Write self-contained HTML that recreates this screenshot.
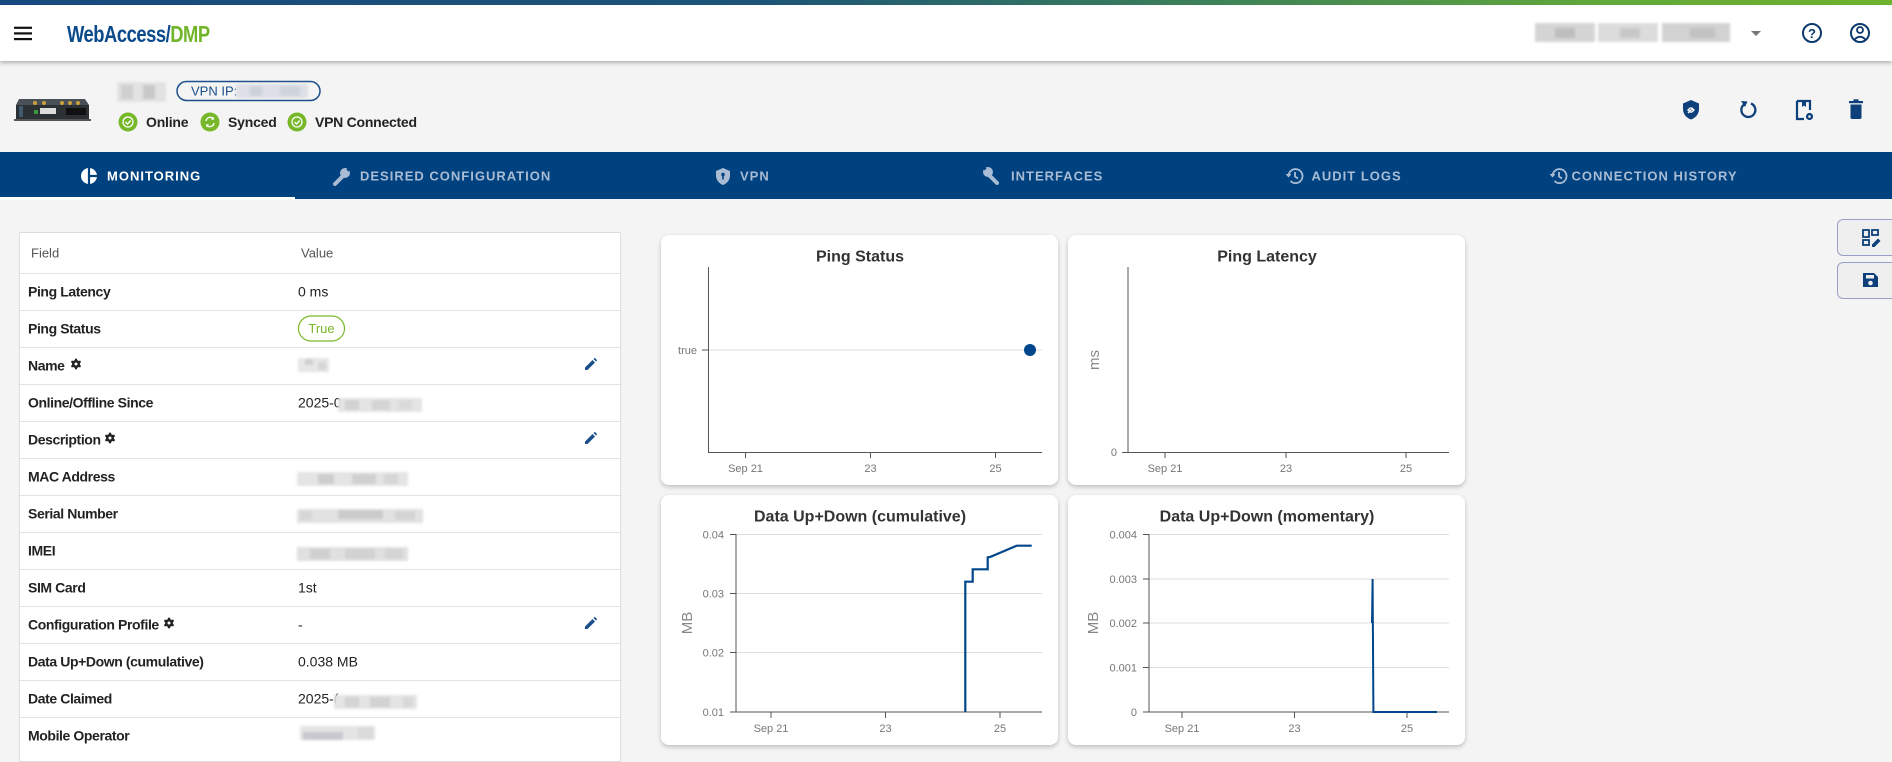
<!DOCTYPE html>
<html><head><meta charset="utf-8">
<style>
*{margin:0;padding:0;box-sizing:border-box}
body{width:1892px;height:753px;overflow:hidden;background:#f4f4f4;font-family:"Liberation Sans",Arial,sans-serif;position:relative;color:#222}
.a{position:absolute}
svg text{font-family:"Liberation Sans",Arial,sans-serif}
.card{position:absolute;background:#fff;border-radius:8px;box-shadow:0 2px 5px rgba(0,0,0,.22)}
.btn{position:absolute;left:1837px;width:62px;height:37px;border:1px solid #9a9fc6;border-radius:6px;background:#efefef}
</style></head><body>
<!-- header -->
<div class="a" style="left:0;top:0;width:1892px;height:61px;background:#fff;box-shadow:0 2px 4px rgba(0,0,0,.28)"></div>
<div class="a" style="left:0;top:0;width:1892px;height:5px;background:linear-gradient(90deg,#174a7e 0%,#1d5477 40%,#3f8357 65%,#62a83a 85%,#6db32d 100%)"></div>
<!-- tab bar -->
<div class="a" style="left:0;top:152px;width:1892px;height:47px;background:#00427f"></div>
<div class="a" style="left:0;top:197px;width:295px;height:3px;background:#fff"></div>
<!-- table -->
<div class="a" style="left:19px;top:232px;width:602px;height:530px;background:#fff;border:1px solid #dcdcdc"></div>
<!-- cards -->
<div class="card" style="left:661px;top:235px;width:397px;height:250px"></div>
<div class="card" style="left:1068px;top:235px;width:397px;height:250px"></div>
<div class="card" style="left:661px;top:495px;width:397px;height:250px"></div>
<div class="card" style="left:1068px;top:495px;width:397px;height:250px"></div>
<div class="btn" style="top:219px"></div>
<div class="btn" style="top:262px"></div>

<svg class="a" style="left:0;top:0" width="1892" height="753" viewBox="0 0 1892 753" xmlns="http://www.w3.org/2000/svg">
<defs>
<filter id="bl" x="-10%" y="-30%" width="120%" height="160%"><feGaussianBlur stdDeviation="1.3"/></filter>
</defs>
<!-- header content -->
<g fill="#111">
<rect x="14" y="26.7" width="18" height="2.2"/><rect x="14" y="32.3" width="18" height="2.2"/><rect x="14" y="38" width="18" height="2.2"/>
</g>
<g transform="translate(67,42) scale(0.8,1)">
<text x="0" y="0" font-size="23" font-weight="bold" letter-spacing="-0.6"><tspan fill="#0b4a8b">WebAccess/</tspan><tspan fill="#72b42a">DMP</tspan></text>
</g>
<g filter="url(#bl)">
<rect x="1535" y="23" width="60" height="19" fill="#d4d4d4"/>
<rect x="1598" y="23" width="60" height="19" fill="#dcdcdc"/>
<rect x="1662" y="23" width="68" height="19" fill="#d2d2d2"/>
<rect x="1555" y="28" width="20" height="10" fill="#bdbdbd"/>
<rect x="1620" y="28" width="20" height="10" fill="#c8c8c8"/>
<rect x="1690" y="28" width="25" height="10" fill="#c2c2c2"/>
</g>
<path d="M1751 31 L1761 31 L1756 36 Z" fill="#777"/>
<circle cx="1812" cy="33" r="9" fill="none" stroke="#0b3a6e" stroke-width="2"/>
<text x="1812" y="37.8" font-size="13" font-weight="bold" fill="#0b3a6e" text-anchor="middle">?</text>
<circle cx="1860" cy="33" r="9" fill="none" stroke="#0b3a6e" stroke-width="2"/>
<circle cx="1860" cy="30" r="3" fill="none" stroke="#0b3a6e" stroke-width="1.8"/>
<path d="M1854.5 39.5 Q1860 34 1865.5 39.5" fill="none" stroke="#0b3a6e" stroke-width="1.8"/>

<!-- device -->
<polygon points="19,99 85,99 89,105 16,105" fill="#4a5058"/>
<rect x="16" y="105" width="73" height="14" fill="#2b3035"/>
<rect x="19" y="106" width="4" height="11" fill="#3f5a6e"/>
<rect x="40" y="108" width="16" height="6" fill="#dcdcdc"/>
<rect x="66" y="108" width="20" height="7" fill="#111"/>
<rect x="34" y="110" width="4" height="4" fill="#3a9a3a"/>
<g fill="#c9a23a"><circle cx="35" cy="103" r="2"/><circle cx="44" cy="103" r="2"/><circle cx="62" cy="103" r="2"/><circle cx="70" cy="103" r="2"/><circle cx="78" cy="103" r="2"/></g>
<rect x="14" y="119" width="77" height="2" fill="#555"/>
<!-- name blur -->
<g filter="url(#bl)">
<rect x="117" y="82" width="49" height="20" fill="#e2e2e2"/>
<rect x="121" y="85" width="12" height="14" fill="#cfcfcf"/>
<rect x="143" y="85" width="12" height="14" fill="#c8c8c8"/>
</g>
<!-- VPN pill -->
<rect x="177" y="81.5" width="143" height="19" rx="9.5" fill="none" stroke="#1b4f8b" stroke-width="1.5"/>
<text x="191" y="95.5" font-size="13" fill="#1b4f8b">VPN IP:</text>
<g filter="url(#bl)"><rect x="236" y="84" width="72" height="14" fill="#dde0e6"/><rect x="250" y="86" width="12" height="10" fill="#cdd2da"/><rect x="280" y="86" width="20" height="10" fill="#cfd3db"/></g>
<!-- status -->
<circle cx="128" cy="122" r="9.5" fill="#76b82a"/>
<circle cx="128" cy="122" r="5" fill="none" stroke="#fff" stroke-width="1.3"/>
<path d="M125.5 122 l2 2 l3.2 -3.5" fill="none" stroke="#fff" stroke-width="1.3"/>
<text x="146" y="127" font-size="14" font-weight="bold" letter-spacing="-0.2" fill="#222">Online</text>
<circle cx="210" cy="122" r="9.5" fill="#76b82a"/>
<path d="M206 121 a4.2 4.2 0 0 1 7.5 -2 M214 123 a4.2 4.2 0 0 1 -7.5 2" fill="none" stroke="#fff" stroke-width="1.4"/>
<path d="M213.8 116.8 l0 3 l-3 0 Z M206.2 127.2 l0 -3 l3 0 Z" fill="#fff"/>
<text x="228" y="127" font-size="14" font-weight="bold" letter-spacing="-0.2" fill="#222">Synced</text>
<circle cx="297" cy="122" r="9.5" fill="#76b82a"/>
<circle cx="297" cy="122" r="5" fill="none" stroke="#fff" stroke-width="1.3"/>
<path d="M294.5 122 l2 2 l3.2 -3.5" fill="none" stroke="#fff" stroke-width="1.3"/>
<text x="315" y="127" font-size="14" font-weight="bold" letter-spacing="-0.25" fill="#222">VPN Connected</text>

<!-- action icons -->
<path d="M1691 100 l8 3.5 v5.5 c0 5 -3.5 9 -8 10.5 c-4.5 -1.5 -8 -5.5 -8 -10.5 v-5.5 z" fill="#0d3f7a"/>
<path d="M1688 113 l5 -5 M1687.5 110.5 l2 -2 a2 2 0 0 1 3 3 M1694.5 109.5 l-2 2 a2 2 0 0 1 -3 -3" fill="none" stroke="#fff" stroke-width="1.3"/>
<path d="M1744 104.5 A7 7 0 1 0 1751 103.5" fill="none" stroke="#0d3f7a" stroke-width="2.3"/>
<path d="M1741 101 L1747.5 101.5 L1745 107 Z" fill="#0d3f7a"/>
<path d="M1797 101 h13 v9 M1797 101 v18 h7" fill="none" stroke="#0d3f7a" stroke-width="2.2"/>
<path d="M1802 101 v6 l2 -1.5 l2 1.5 v-6 z" fill="#0d3f7a"/>
<circle cx="1809.5" cy="116.5" r="3.6" fill="#0d3f7a"/>
<circle cx="1809.5" cy="116.5" r="1.3" fill="#f4f4f4"/>
<rect x="1849" y="101" width="14" height="2.2" fill="#0d3f7a"/>
<rect x="1853.5" y="99.3" width="5" height="2" fill="#0d3f7a"/>
<path d="M1850.5 104.5 h11 v13 a1.5 1.5 0 0 1 -1.5 1.5 h-8 a1.5 1.5 0 0 1 -1.5 -1.5 z" fill="#0d3f7a"/>

<!-- tabs -->
<circle cx="89" cy="176" r="8" fill="#fff"/>
<rect x="87.9" y="167" width="2.2" height="18" fill="#00427f"/>
<rect x="89" y="174.9" width="9" height="2.2" fill="#00427f"/>
<text x="107" y="180.7" font-size="13" font-weight="bold" letter-spacing="1" fill="#fff">MONITORING</text>
<g fill="#a9bcd4" stroke="#a9bcd4">
<path d="M335 184 l8 -8" stroke-width="4" stroke-linecap="round"/>
<circle cx="345" cy="173" r="5" stroke="none"/>
<path d="M347.5 170.5 l3 -3" stroke="#00427f" stroke-width="3"/>
</g>
<text x="360" y="180.7" font-size="13" font-weight="bold" letter-spacing="1" fill="#a9bcd4">DESIRED CONFIGURATION</text>
<path d="M723 168 l7 3 v4.5 c0 4.5 -3 8 -7 9.5 c-4 -1.5 -7 -5 -7 -9.5 v-4.5 z" fill="#a9bcd4"/>
<circle cx="723" cy="174.5" r="1.8" fill="#00427f"/><rect x="722.2" y="175" width="1.6" height="4.5" fill="#00427f"/>
<text x="740" y="180.7" font-size="13" font-weight="bold" letter-spacing="1" fill="#a9bcd4">VPN</text>
<g fill="#a9bcd4" stroke="#a9bcd4">
<path d="M997 183 l-7 -7" stroke-width="4" stroke-linecap="round"/>
<circle cx="988" cy="172" r="5" stroke="none"/>
<path d="M985.5 169.5 l-3 -3" stroke="#00427f" stroke-width="3"/>
</g>
<text x="1011" y="180.7" font-size="13" font-weight="bold" letter-spacing="1" fill="#a9bcd4">INTERFACES</text>
<g fill="none" stroke="#a9bcd4" stroke-width="1.8">
<path d="M1288.5 176 A7 7 0 1 1 1290.5 181"/>
<path d="M1295 172 v4.5 l3 2"/>
<path d="M1552.5 176 A7 7 0 1 1 1554.5 181"/>
<path d="M1559 172 v4.5 l3 2"/>
</g>
<path d="M1285.5 174 l3 3.5 l3 -3.5 z M1549.5 174 l3 3.5 l3 -3.5 z" fill="#a9bcd4"/>
<text x="1311.5" y="180.7" font-size="13" font-weight="bold" letter-spacing="1" fill="#a9bcd4">AUDIT LOGS</text>
<text x="1571.5" y="180.7" font-size="13" font-weight="bold" letter-spacing="1" fill="#a9bcd4">CONNECTION HISTORY</text>

<!-- table -->
<g stroke="#e2e2e2" stroke-width="1">
<line x1="20" y1="273.5" x2="620" y2="273.5"/><line x1="20" y1="310.5" x2="620" y2="310.5"/><line x1="20" y1="347.5" x2="620" y2="347.5"/><line x1="20" y1="384.5" x2="620" y2="384.5"/><line x1="20" y1="421.5" x2="620" y2="421.5"/><line x1="20" y1="458.5" x2="620" y2="458.5"/><line x1="20" y1="495.5" x2="620" y2="495.5"/><line x1="20" y1="532.5" x2="620" y2="532.5"/><line x1="20" y1="569.5" x2="620" y2="569.5"/><line x1="20" y1="606.5" x2="620" y2="606.5"/><line x1="20" y1="643.5" x2="620" y2="643.5"/><line x1="20" y1="680.5" x2="620" y2="680.5"/><line x1="20" y1="717.5" x2="620" y2="717.5"/>
</g>
<text x="31" y="257.5" font-size="13" fill="#555">Field</text>
<text x="301" y="257.5" font-size="13" fill="#555">Value</text>
<g font-size="14" font-weight="bold" fill="#222" letter-spacing="-0.4">
<text x="28" y="296.5">Ping Latency</text>
<text x="28" y="333.5">Ping Status</text>
<text x="28" y="370.5">Name</text>
<text x="28" y="407.5">Online/Offline Since</text>
<text x="28" y="444.5">Description</text>
<text x="28" y="481.5">MAC Address</text>
<text x="28" y="518.5">Serial Number</text>
<text x="28" y="555.5">IMEI</text>
<text x="28" y="592.5">SIM Card</text>
<text x="28" y="629.5">Configuration Profile</text>
<text x="28" y="666.5">Data Up+Down (cumulative)</text>
<text x="28" y="703.5">Date Claimed</text>
<text x="28" y="740.5">Mobile Operator</text>
</g>
<!-- gears -->
<g fill="#222">
<g transform="translate(76,364)"><circle r="4" /><g stroke="#222" stroke-width="2.2"><line x1="0" y1="-5.3" x2="0" y2="5.3"/><line x1="-4.6" y1="-2.65" x2="4.6" y2="2.65"/><line x1="-4.6" y1="2.65" x2="4.6" y2="-2.65"/></g><circle r="1.5" fill="#fff"/></g>
<g transform="translate(110,438)"><circle r="4" /><g stroke="#222" stroke-width="2.2"><line x1="0" y1="-5.3" x2="0" y2="5.3"/><line x1="-4.6" y1="-2.65" x2="4.6" y2="2.65"/><line x1="-4.6" y1="2.65" x2="4.6" y2="-2.65"/></g><circle r="1.5" fill="#fff"/></g>
<g transform="translate(169,623)"><circle r="4" /><g stroke="#222" stroke-width="2.2"><line x1="0" y1="-5.3" x2="0" y2="5.3"/><line x1="-4.6" y1="-2.65" x2="4.6" y2="2.65"/><line x1="-4.6" y1="2.65" x2="4.6" y2="-2.65"/></g><circle r="1.5" fill="#fff"/></g>
</g>
<g font-size="14" fill="#222">
<text x="298" y="296.5">0 ms</text>
<text x="298" y="407.5">2025-0</text>
<text x="298" y="592.5">1st</text>
<text x="298" y="629.5">-</text>
<text x="298" y="666.5">0.038 MB</text>
<text x="298" y="703.5">2025-(</text>
</g>
<rect x="298.5" y="316" width="46" height="25" rx="12.5" fill="none" stroke="#7ab929" stroke-width="1.2"/>
<text x="321.5" y="333" font-size="13" fill="#7ab929" text-anchor="middle">True</text>
<!-- pencils -->
<g fill="#1b4f8b">
<path d="M585 370 l0 -2.5 l7.5 -7.5 l2.5 2.5 l-7.5 7.5 z M593.5 359 l1.2 -1.2 l2.5 2.5 l-1.2 1.2 z"/>
<path d="M585 444 l0 -2.5 l7.5 -7.5 l2.5 2.5 l-7.5 7.5 z M593.5 433 l1.2 -1.2 l2.5 2.5 l-1.2 1.2 z"/>
<path d="M585 629 l0 -2.5 l7.5 -7.5 l2.5 2.5 l-7.5 7.5 z M593.5 618 l1.2 -1.2 l2.5 2.5 l-1.2 1.2 z"/>
</g>
<!-- blurred values -->
<g filter="url(#bl)">
<rect x="298" y="358" width="31" height="14" fill="#e6e6e6"/><rect x="305" y="359" width="8" height="6" fill="#cfcfcf"/><rect x="318" y="362" width="8" height="8" fill="#d6d6d6"/>
<rect x="338" y="398" width="84" height="14" fill="#e4e4e4"/><rect x="345" y="400" width="14" height="10" fill="#d2d2d2"/><rect x="372" y="400" width="18" height="10" fill="#d4d4d4"/><rect x="398" y="400" width="14" height="10" fill="#dadada"/>
<rect x="297" y="472" width="111" height="14" fill="#e4e4e4"/><rect x="318" y="474" width="16" height="10" fill="#cdcdcd"/><rect x="352" y="474" width="24" height="10" fill="#d0d0d0"/><rect x="384" y="474" width="14" height="10" fill="#d6d6d6"/>
<rect x="297" y="509" width="126" height="14" fill="#e2e2e2"/><rect x="338" y="510" width="45" height="9" fill="#cbcbcb"/><rect x="300" y="511" width="12" height="9" fill="#d6d6d6"/><rect x="395" y="511" width="20" height="9" fill="#d4d4d4"/>
<rect x="297" y="547" width="111" height="14" fill="#e0e0e0"/><rect x="310" y="549" width="20" height="10" fill="#cfcfcf"/><rect x="345" y="549" width="30" height="10" fill="#d2d2d2"/><rect x="385" y="549" width="18" height="10" fill="#d4d4d4"/>
<rect x="334" y="695" width="83" height="14" fill="#e4e4e4"/><rect x="345" y="697" width="14" height="10" fill="#d4d4d4"/><rect x="370" y="697" width="20" height="10" fill="#d2d2d2"/><rect x="403" y="697" width="10" height="10" fill="#d8d8d8"/>
<rect x="300" y="726" width="75" height="14" fill="#e4e4e4"/><rect x="303" y="732" width="40" height="8" fill="#c8c8d0"/><rect x="358" y="727" width="15" height="12" fill="#dadada"/>
</g>

<!-- charts common style -->
<g font-size="16" font-weight="bold" fill="#333" text-anchor="middle">
<text x="860" y="261.5">Ping Status</text>
<text x="1267" y="261.5">Ping Latency</text>
<text x="860" y="521.7">Data Up+Down (cumulative)</text>
<text x="1267" y="521.7">Data Up+Down (momentary)</text>
</g>
<!-- chart1 -->
<line x1="708" y1="350" x2="1042" y2="350" stroke="#eeeeee" stroke-width="2"/>
<g stroke="#555" stroke-width="1" fill="none">
<line x1="708.5" y1="267" x2="708.5" y2="452.5"/>
<line x1="708" y1="452.5" x2="1042" y2="452.5"/>
<line x1="702" y1="350" x2="708" y2="350"/>
<line x1="745.5" y1="452" x2="745.5" y2="458"/><line x1="870.5" y1="452" x2="870.5" y2="458"/><line x1="995.5" y1="452" x2="995.5" y2="458"/>
</g>
<g font-size="11" fill="#777" text-anchor="middle">
<text x="745.5" y="472">Sep 21</text><text x="870.5" y="472">23</text><text x="995.5" y="472">25</text>
</g>
<text x="697" y="354" font-size="11" fill="#777" text-anchor="end">true</text>
<circle cx="1030" cy="350" r="6" fill="#00468b"/>
<!-- chart2 -->
<g stroke="#555" stroke-width="1" fill="none">
<line x1="1128" y1="267" x2="1128" y2="452.5"/>
<line x1="1128" y1="452.5" x2="1449" y2="452.5"/>
<line x1="1122" y1="452.5" x2="1128" y2="452.5"/>
<line x1="1165" y1="452" x2="1165" y2="458"/><line x1="1286" y1="452" x2="1286" y2="458"/><line x1="1406" y1="452" x2="1406" y2="458"/>
</g>
<g font-size="11" fill="#777" text-anchor="middle">
<text x="1165" y="472">Sep 21</text><text x="1286" y="472">23</text><text x="1406" y="472">25</text>
</g>
<text x="1117" y="456" font-size="11" fill="#777" text-anchor="end">0</text>
<text transform="translate(1099,360) rotate(-90)" font-size="15" fill="#888" text-anchor="middle">ms</text>
<!-- chart3 -->
<g stroke="#dddddd" stroke-width="1">
<line x1="736" y1="534.5" x2="1042" y2="534.5"/><line x1="736" y1="593.5" x2="1042" y2="593.5"/><line x1="736" y1="652.5" x2="1042" y2="652.5"/>
</g>
<g stroke="#555" stroke-width="1" fill="none">
<line x1="736" y1="534" x2="736" y2="712.5"/>
<line x1="736" y1="712" x2="1042" y2="712"/>
<line x1="730" y1="534.5" x2="736" y2="534.5"/><line x1="730" y1="593.5" x2="736" y2="593.5"/><line x1="730" y1="652.5" x2="736" y2="652.5"/><line x1="730" y1="712" x2="736" y2="712"/>
<line x1="771" y1="712" x2="771" y2="718"/><line x1="885.5" y1="712" x2="885.5" y2="718"/><line x1="1000" y1="712" x2="1000" y2="718"/>
</g>
<g font-size="11" fill="#777" text-anchor="end">
<text x="724" y="538.5">0.04</text><text x="724" y="597.5">0.03</text><text x="724" y="656.5">0.02</text><text x="724" y="716">0.01</text>
</g>
<g font-size="11" fill="#777" text-anchor="middle">
<text x="771" y="732">Sep 21</text><text x="885.5" y="732">23</text><text x="1000" y="732">25</text>
</g>
<text transform="translate(692,623) rotate(-90)" font-size="15" fill="#888" text-anchor="middle">MB</text>
<path d="M965.3 712 L965.3 581.7 L972.7 581.7 L972.7 569.3 L987.7 569.3 L987.7 557.3 L990 557 L1016.7 545.7 L1031.7 545.7" fill="none" stroke="#00468b" stroke-width="2.2"/>
<!-- chart4 -->
<g stroke="#dddddd" stroke-width="1">
<line x1="1149" y1="534.5" x2="1449" y2="534.5"/><line x1="1149" y1="579" x2="1449" y2="579"/><line x1="1149" y1="623" x2="1449" y2="623"/><line x1="1149" y1="667.5" x2="1449" y2="667.5"/>
</g>
<g stroke="#555" stroke-width="1" fill="none">
<line x1="1149" y1="534" x2="1149" y2="712.5"/>
<line x1="1149" y1="712" x2="1449" y2="712"/>
<line x1="1143" y1="534.5" x2="1149" y2="534.5"/><line x1="1143" y1="579" x2="1149" y2="579"/><line x1="1143" y1="623" x2="1149" y2="623"/><line x1="1143" y1="667.5" x2="1149" y2="667.5"/><line x1="1143" y1="712" x2="1149" y2="712"/>
<line x1="1182" y1="712" x2="1182" y2="718"/><line x1="1294.5" y1="712" x2="1294.5" y2="718"/><line x1="1407" y1="712" x2="1407" y2="718"/>
</g>
<g font-size="11" fill="#777" text-anchor="end">
<text x="1137" y="538.5">0.004</text><text x="1137" y="583">0.003</text><text x="1137" y="627">0.002</text><text x="1137" y="671.5">0.001</text><text x="1137" y="716">0</text>
</g>
<g font-size="11" fill="#777" text-anchor="middle">
<text x="1182" y="732">Sep 21</text><text x="1294.5" y="732">23</text><text x="1407" y="732">25</text>
</g>
<text transform="translate(1098,623) rotate(-90)" font-size="15" fill="#888" text-anchor="middle">MB</text>
<path d="M1372 623 L1372.6 579 L1373.4 712 L1437 712" fill="none" stroke="#00468b" stroke-width="2"/>

<!-- right buttons icons -->
<g fill="#0d3f7a">
<rect x="1863" y="230" width="6" height="7" fill="none" stroke="#0d3f7a" stroke-width="1.8"/>
<rect x="1872" y="230" width="6" height="5" fill="none" stroke="#0d3f7a" stroke-width="1.8"/>
<rect x="1863" y="240" width="6" height="5" fill="none" stroke="#0d3f7a" stroke-width="1.8"/>
<path d="M1872 247 l0 -2.5 l6 -6 l2.5 2.5 l-6 6 z"/>
<path d="M1863 273 h11 l4 4 v10 h-15 z"/>
<rect x="1866" y="275" width="8" height="3.5" fill="#efefef"/>
<circle cx="1870.5" cy="283" r="2.3" fill="#efefef"/>
</g>
</svg>
</body></html>
